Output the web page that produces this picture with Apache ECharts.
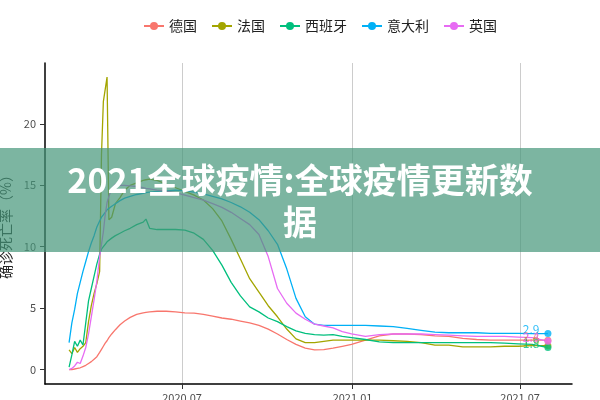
<!DOCTYPE html>
<html><head><meta charset="utf-8">
<script src="https://cdn.jsdelivr.net/npm/echarts@6/dist/echarts.min.js"></script>
<style>html,body{margin:0;padding:0;background:#fff}#c{width:600px;height:400px}</style>
</head><body><div id="c"></div>
<script>
const dates = ['2020-03-01','2020-03-04','2020-03-07','2020-03-10','2020-03-13','2020-03-16','2020-03-19','2020-03-22','2020-03-25','2020-03-28','2020-03-31','2020-04-03',
'2020-04-05','2020-04-07','2020-04-09','2020-04-11','2020-04-13',
'2020-04-16','2020-04-20','2020-04-25','2020-04-30','2020-05-06','2020-05-13','2020-05-20','2020-05-23','2020-05-27','2020-06-04',
'2020-06-14','2020-06-24','2020-07-04','2020-07-14','2020-07-24','2020-08-03','2020-08-13','2020-08-23','2020-09-02','2020-09-12','2020-09-22','2020-10-02','2020-10-12','2020-10-22','2020-11-01','2020-11-11','2020-11-21','2020-12-01','2020-12-11','2020-12-21','2020-12-31',
'2021-01-15','2021-01-30','2021-02-14',
'2021-03-01','2021-03-16','2021-03-31','2021-04-15','2021-04-30','2021-05-15','2021-05-30','2021-06-14','2021-06-29','2021-07-14',
'2021-07-31'];
const seriesNames = ['德国','法国','西班牙','意大利','英国'];
const germany = [0,0,0.05,0.1,0.15,0.25,0.35,0.5,0.65,0.85,1.05,1.4,
1.65,1.9,2.15,2.35,2.6,
2.9,3.25,3.65,3.95,4.25,4.5,4.62,4.66,4.7,4.75,
4.75,4.7,4.62,4.6,4.5,4.35,4.2,4.1,3.95,3.8,3.6,3.3,2.9,2.45,2.05,1.75,1.6,1.62,1.75,1.9,2.05,
2.4,2.75,2.9,
2.9,2.85,2.75,2.7,2.55,2.45,2.4,2.4,2.4,2.4,
2.4];
const france = [1.6,1.3,1.8,1.4,1.7,1.9,2.2,3.9,5.2,6.2,7.0,8.0,
17.5,21.8,22.8,23.8,12.2,
12.4,13.5,14.0,14.6,15.0,15.2,15.4,15.45,15.5,15.4,
15.1,14.8,14.5,14.2,13.8,13.1,12.1,10.6,9.0,7.4,6.3,5.2,4.3,3.3,2.5,2.2,2.2,2.3,2.4,2.4,2.4,
2.4,2.4,2.35,
2.3,2.2,2.0,2.0,1.85,1.85,1.85,1.9,1.9,1.95,
1.95];
const spain = [0.2,1.2,2.3,1.9,2.4,2.0,3.8,5.6,6.6,7.6,8.6,9.4,
9.8,10.0,10.2,10.4,10.5,
10.7,10.9,11.1,11.3,11.5,11.8,12.0,12.25,11.5,11.4,
11.4,11.4,11.35,11.1,10.6,9.7,8.5,7.1,6.0,5.1,4.7,4.2,3.9,3.5,3.15,2.95,2.85,2.8,2.85,2.7,2.6,
2.45,2.25,2.2,
2.2,2.2,2.2,2.2,2.2,2.2,2.2,2.15,2.1,2.05,
1.8];
const italy = [2.2,3.8,4.9,6.2,7.1,8.0,8.8,9.6,10.3,10.9,11.6,12.1,
12.4,12.6,12.8,13.0,13.1,
13.3,13.5,13.75,13.95,14.1,14.25,14.35,14.4,14.45,14.5,
14.55,14.6,14.55,14.45,14.3,14.1,13.9,13.6,13.25,12.8,12.2,11.3,10.2,8.2,5.8,4.3,3.7,3.6,3.6,3.6,3.6,
3.6,3.55,3.5,
3.35,3.2,3.05,3.0,3.0,3.0,2.95,2.95,2.95,2.93,
2.93];
const uk = [0,0.1,0.3,0.6,0.5,1.1,1.8,2.9,4.3,5.7,7.2,9.2,
10.2,11.2,12.6,13.6,14.1,
14.7,15.1,15.0,15.0,14.95,14.9,14.8,14.75,14.7,14.6,
14.5,14.4,14.2,14.0,13.8,13.5,13.2,12.8,12.3,11.8,11.0,9.2,6.6,5.4,4.6,4.1,3.7,3.55,3.4,3.1,2.9,
2.7,2.85,2.9,
2.9,2.9,2.85,2.8,2.75,2.7,2.7,2.7,2.65,2.6,
2.3];
const yTicks = [0,5,10,15,20];
const xTickDates = ['2020-07-01','2021-01-01','2021-07-01'];
const xTickLabels = ['2020.07','2021.01','2021.07'];
const xRange = ['2020-02-04','2021-08-26'];
const yRange = [-1.17, 24.95];
const yAxisTitle = '确诊死亡率（%）';
const bannerText = '2021全球疫情:全球疫情更新数\n据';
const colors = ['#F8766D','#A3A500','#00BF7D','#00B0F6','#E76BF3'];

function t(s){const p=s.split('-').map(Number);return new Date(p[0],p[1]-1,p[2]).getTime();}
const allVals = [germany, france, spain, italy, uk];
const xTickVals = xTickDates.map(t);
const FONT = '"Noto Sans CJK SC","Noto Sans",sans-serif';

const series = [];
allVals.forEach((vals, k) => {
  series.push({
    name: seriesNames[k], type: 'line', symbol: 'circle', showSymbol: false,
    color: colors[k], lineStyle: {width: 1.3, color: colors[k]},
    data: dates.map((d, i) => [t(d), vals[i]]), z: 2 + k
  });
});
allVals.forEach((vals, k) => {
  const last = vals.length - 1;
  series.push({
    name: seriesNames[k] + '_end', type: 'scatter', symbol: 'circle', symbolSize: 7,
    itemStyle: {color: colors[k]}, z: 10 + k,
    label: {show: true, position: 'left', distance: 5, offset: [0, -4], color: colors[k],
      fontSize: 12, fontFamily: FONT, formatter: p => p.value[1].toFixed(1)},
    data: [[t(dates[last]), vals[last]]]
  });
});

const chart = echarts.init(document.getElementById('c'));
chart.setOption({
  animation: false,
  backgroundColor: '#fff',
  textStyle: {fontFamily: FONT},
  legend: {
    data: seriesNames, top: 14, left: 138, itemWidth: 20, itemHeight: 10, itemGap: 14,
    textStyle: {fontSize: 14, color: '#222', fontFamily: FONT}
  },
  grid: {left: 45, right: 28, top: 63, bottom: 16, containLabel: false, outerBoundsMode: 'none'},
  xAxis: {
    type: 'value', min: t(xRange[0]), max: t(xRange[1]),
    axisLine: {show: true, onZero: false, lineStyle: {color: '#000', width: 1.5}},
    axisTick: {show: true, length: 5, customValues: xTickVals, lineStyle: {color: '#333'}},
    axisLabel: {customValues: xTickVals, margin: 8, fontSize: 11, color: '#4d4d4d',
      formatter: v => { const i = xTickVals.indexOf(v); return i >= 0 ? xTickLabels[i] : ''; }},
    splitLine: {show: true, lineStyle: {color: '#cccccc', width: 1}}
  },
  yAxis: {
    type: 'value', min: yRange[0], max: yRange[1],
    name: yAxisTitle, nameLocation: 'middle', nameGap: 23, nameRotate: 90,
    nameTextStyle: {fontSize: 14, color: '#222', fontFamily: FONT},
    axisLine: {show: true, onZero: false, lineStyle: {color: '#000', width: 1.5}},
    axisTick: {show: true, length: 5, customValues: yTicks, lineStyle: {color: '#333'}},
    axisLabel: {customValues: yTicks, margin: 9, fontSize: 11, color: '#4d4d4d'},
    splitLine: {show: false}
  },
  series: series,
  graphic: [
    {type: 'rect', z: 100, shape: {x: 0, y: 148, width: 600, height: 104},
     style: {fill: 'rgba(69,149,121,0.7)'}},
    {type: 'text', z: 101, x: 300, y: 201,
     style: {text: bannerText, fill: '#fff', font: 'bold 34px ' + FONT,
       textAlign: 'center', textVerticalAlign: 'middle', lineHeight: 42}}
  ]
});
</script></body></html>
